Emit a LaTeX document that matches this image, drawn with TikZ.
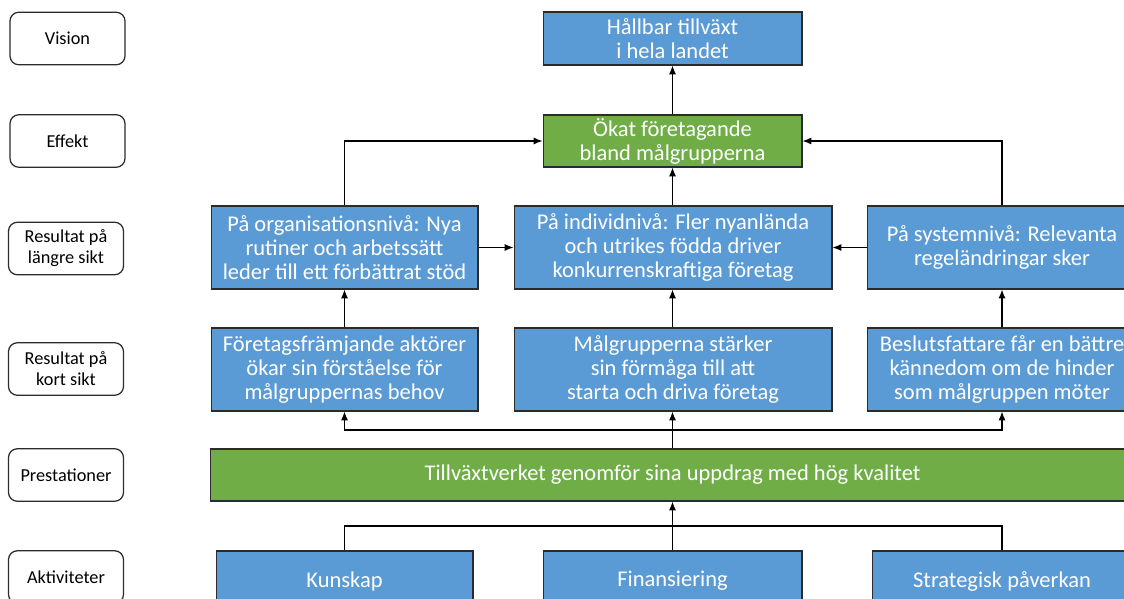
\documentclass[tikz,border=0pt]{standalone}
\usepackage{fontspec}
\setmainfont{Carlito}
\usepackage{xcolor}
\usepackage{tikz}
\usetikzlibrary{arrows.meta}
\definecolor{boxblue}{HTML}{5B9BD5}
\definecolor{boxgreen}{HTML}{70AD47}
\definecolor{edge}{HTML}{2B2B2B}

\begin{document}
\begin{tikzpicture}[x=0.02cm, y=-0.02cm,
    level/.style={draw=edge, line width=0.7pt, rounded corners=5pt, fill=white,
      align=center, inner sep=0pt, minimum width=2.3cm, minimum height=1.05cm,
      font=\fontsize{10.4}{12}\selectfont},
    goalbox/.style={draw=edge, line width=0.6pt, fill=boxblue, text=white,
      align=center, inner sep=0pt, font=\fontsize{12.8}{13.6}\selectfont},
    blue/.style={goalbox, minimum height=1.66cm},
    green/.style={goalbox, fill=boxgreen},
    arr/.style={-{Latex[length=5pt,width=4pt]}, line width=0.7pt},
    bus/.style={line width=0.7pt}]
  \useasboundingbox (0,0) rectangle (1124,598);
  \clip (0,0) rectangle (1124,598);

  \node [level] (vis) at (67.5,38.5) {Vision};
  \node [level] (eff) at (67.5,141) {Effekt};
  \node [level] (lang) at (66,248.5) {Resultat på\\längre sikt};
  \node [level] (kort) at (66,369) {Resultat på\\kort sikt};
  \node [level] (pres) at (66,475) {Prestationer};
  \node [level] (akt) at (66,577) {Aktiviteter};

  \node [goalbox, minimum width=5.18cm, minimum height=1.06cm] (goal) at (672.5,38.5)
    {Hållbar tillväxt\\i hela landet};
  \node [green, minimum width=5.18cm, minimum height=1.04cm] (effect) at (672.5,141)
    {Ökat företagande\\bland målgrupperna};

  \node [blue, minimum width=5.34cm] (orgniva) at (344.5,247.5)
    {På organisationsnivå: Nya\\rutiner och arbetssätt\\leder till ett förbättrat stöd};
  \node [blue, minimum width=6.36cm] (indniva) at (673,247.5)
    {På individnivå: Fler nyanlända\\och utrikes födda driver\\konkurrenskraftiga företag};
  \node [blue, minimum width=5.4cm] (sysniva) at (1002,247.5)
    {På systemnivå: Relevanta\\regeländringar sker};

  \node [blue, minimum width=5.34cm] (aktorer) at (344.5,369.5)
    {Företagsfrämjande aktörer\\ökar sin förståelse för\\målgruppernas behov};
  \node [blue, minimum width=6.36cm] (malgrp) at (673,369.5)
    {Målgrupperna stärker\\sin förmåga till att\\starta och driva företag};
  \node [blue, minimum width=5.4cm] (beslut) at (1002,369.5)
    {Beslutsfattare får en bättre\\kännedom om de hinder\\som målgruppen möter};

  \node [green, minimum width=18.5cm, minimum height=1.04cm] (prest) at (672.5,475)
    {Tillväxtverket genomför sina uppdrag med hög kvalitet};

  \node [goalbox, minimum width=5.14cm, minimum height=1.2cm] (kunskap) at (344.5,581) {Kunskap};
  \node [goalbox, minimum width=5.18cm, minimum height=1.2cm] (finans) at (672.5,581) {Finansiering};
  \node [goalbox, minimum width=5.2cm, minimum height=1.2cm] (strat) at (1002,581) {Strategisk påverkan};

  \draw [arr] (effect) -- (goal);
  \draw [arr] (indniva.north -| effect) -- (effect);
  \draw [arr] (orgniva.north) |- (effect.west);
  \draw [arr] (sysniva.north) |- (effect.east);
  \draw [arr] (orgniva) -- (indniva);
  \draw [arr] (sysniva) -- (indniva);

  \draw [arr] (aktorer) -- (orgniva);
  \draw [arr] (malgrp.north -| effect) -- (indniva.south -| effect);
  \draw [arr] (beslut) -- (sysniva);

  \coordinate (busup) at (672.5,430);
  \draw [bus] (prest.north) -- (busup);
  \draw [arr] (busup) -| (aktorer);
  \draw [arr] (busup) -- (malgrp.south -| busup);
  \draw [arr] (busup) -| (beslut);

  \coordinate (busdn) at (672.5,526);
  \draw [arr] (busdn) -- (prest);
  \draw [bus] (kunskap) |- (busdn);
  \draw [bus] (strat) |- (busdn);
  \draw [bus] (finans) -- (busdn);
\end{tikzpicture}
\end{document}
